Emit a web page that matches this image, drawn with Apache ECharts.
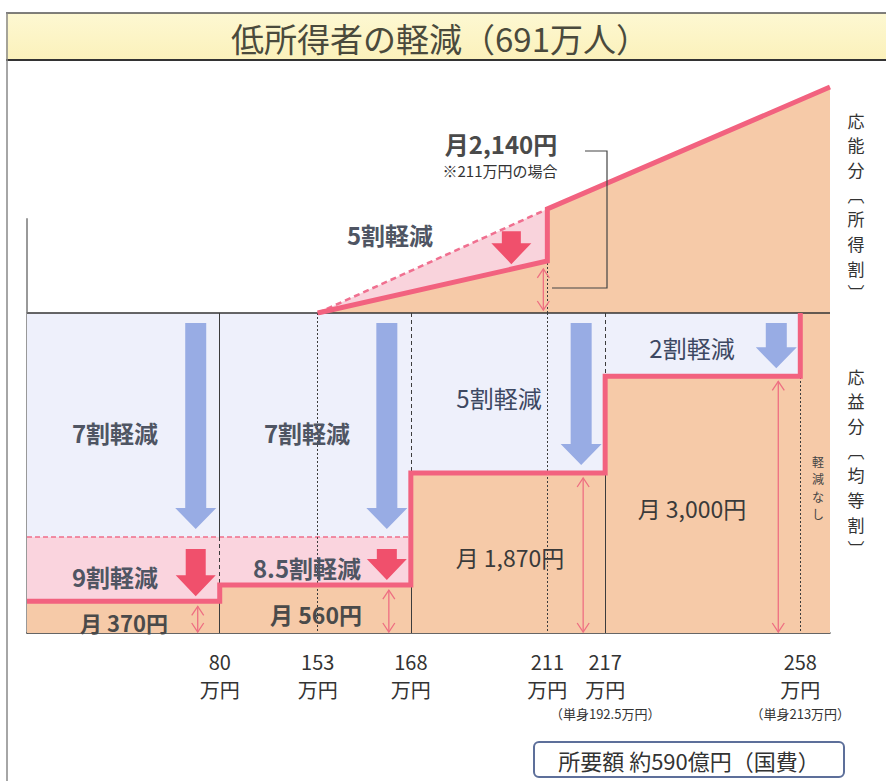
<!DOCTYPE html>
<html>
<head>
<meta charset="utf-8">
<title>低所得者の軽減</title>
<script src="https://cdn.jsdelivr.net/npm/echarts@6/dist/echarts.min.js"></script>
<style>
    html, body { margin: 0; padding: 0; background: #fff; }
    #chart { width: 886px; height: 781px; }
</style>
</head>
<body>
<div id="chart"></div>
<script>
// 所得の区切り（万円）。模式図なので横軸上の位置は等間隔ではない（0〜100）
var incomeLabels = ["80", "153", "168", "211", "217", "258"];
var incomeNotes  = ["", "", "", "", "単身192.5万円", "単身213万円"];
var incomePos    = [24, 36.2, 47.8, 64.8, 72, 96.3];
var axisEnd      = 100;

// 応益分（均等割）の月額：満額、7割軽減後、各区間の軽減後
var flatFull   = 3740;
var flat7      = 1122;
var flatLevels = [370, 560, 1870, 3000];
var flatEnds   = ["80", "168", "217", "258"];
var flatRates  = ["9割軽減", "8.5割軽減", "5割軽減", "2割軽減"];

// 応能分（所得割）の月額：153万円から増える。5割軽減は211万円まで
var shareIncome  = ["153", "211", "end"];
var shareFull    = [0, 2140, 4650];
var shareReduced = [0, 1070];

var FONT = '"Noto Sans CJK JP", "Noto Sans CJK SC", sans-serif';
var gridLeft = 27, gridRight = 56;
var unitPerPx = axisEnd / (886 - gridLeft - gridRight);

function pos(label) {
    if (label === "end") return axisEnd;
    return incomePos[incomeLabels.indexOf(label)];
}
function yen(v) {
    return String(v).replace(/\B(?=(\d{3})+(?!\d))/g, ",");
}
// linear value of a polyline at x
function valueAt(pts, x) {
    for (var i = 0; i < pts.length - 1; i++) {
        if (x >= pts[i][0] && x <= pts[i + 1][0]) {
            var t = (x - pts[i][0]) / (pts[i + 1][0] - pts[i][0]);
            return pts[i][1] + t * (pts[i + 1][1] - pts[i][1]);
        }
    }
    return pts[pts.length - 1][1];
}

// ---- 均等割の階段 ----
var stepPts = [];
var x0 = 0;
for (var i = 0; i < flatLevels.length; i++) {
    var xe = pos(flatEnds[i]);
    stepPts.push([x0, flatLevels[i]], [xe, flatLevels[i]]);
    x0 = xe;
}
stepPts.push([x0, flatFull]);
var stepArea = stepPts.concat([[axisEnd, flatFull]]);

// ---- 所得割の線 ----
var sharePts = [];
for (var i = 0; i < shareIncome.length; i++) {
    sharePts.push([pos(shareIncome[i]), shareFull[i]]);
}
var reducedPts = [[pos("153"), shareReduced[0]], [pos("211"), shareReduced[1]]];
var shareLine = reducedPts.concat(sharePts.slice(1));

// arrows: item = [x, from, to]
function arrowSeries(gridIdx, items, o) {
    return {
        type: "custom", xAxisIndex: gridIdx, yAxisIndex: gridIdx, silent: true, z: 6,
        data: items,
        renderItem: function (params, api) {
            var a = api.coord([api.value(0), api.value(1)]);
            var b = api.coord([api.value(0), api.value(2)]);
            var cx = a[0] - o.off;
            var y1 = a[1] + o.gapTop, y2 = b[1] - o.gapBottom;
            var hs = o.shaft / 2, hh = o.head / 2, hy = y2 - o.headLen;
            return {
                type: "polygon",
                shape: { points: [[cx - hs, y1], [cx + hs, y1], [cx + hs, hy], [cx + hh, hy],
                                  [cx, y2], [cx - hh, hy], [cx - hs, hy]] },
                style: { fill: o.color }
            };
        }
    };
}
function doubleArrowSeries(gridIdx, items, o) {
    return {
        type: "custom", xAxisIndex: gridIdx, yAxisIndex: gridIdx, silent: true, z: 6,
        data: items,
        renderItem: function (params, api) {
            var a = api.coord([api.value(0), api.value(1)]);
            var b = api.coord([api.value(0), api.value(2)]);
            var cx = a[0] - o.off, ya = a[1] + o.gapTop, yb = b[1] - o.gapBottom;
            var st = { stroke: "#ee6f82", lineWidth: 1.3, fill: null };
            return {
                type: "group",
                children: [
                    { type: "line", shape: { x1: cx, y1: ya, x2: cx, y2: yb }, style: st },
                    { type: "polyline", shape: { points: [[cx - 6, ya + 9], [cx, ya], [cx + 6, ya + 9]] }, style: st },
                    { type: "polyline", shape: { points: [[cx - 6, yb - 9], [cx, yb], [cx + 6, yb - 9]] }, style: st }
                ]
            };
        }
    };
}

function vline(x, y1, y2, type) {
    return [{ coord: [x, y1], lineStyle: { type: type, color: "#3c3c3c", width: 1 } }, { coord: [x, y2] }];
}

// vertical (tategaki) text: one element per character
function vtext(x, yTop, chars, size, step, color) {
    var out = [];
    for (var k = 0; k < chars.length; k++) {
        out.push({ type: "text", z: 10, x: x, y: yTop + k * step,
                   style: { text: chars[k], font: size + "px " + FONT, fill: color,
                            align: "center", verticalAlign: "middle" } });
    }
    return out;
}

var upperArrowX = pos("211") - 36 * unitPerPx;
var upperGapX = pos("211") - 4 * unitPerPx;

var chart = echarts.init(document.getElementById("chart"), null, { renderer: "svg" });

var graphics = [
    // title band
    { type: "rect", z: 0, shape: { x: 6, y: 13, width: 880, height: 47 },
      style: { fill: new echarts.graphic.LinearGradient(0, 0, 0, 1, [
          { offset: 0, color: "#fdf8d2" }, { offset: 1, color: "#fbf1bb" }]) } },
    { type: "line", shape: { x1: 6, y1: 13, x2: 886, y2: 13 }, style: { stroke: "#555", lineWidth: 1.5 } },
    { type: "line", shape: { x1: 6, y1: 60, x2: 886, y2: 60 }, style: { stroke: "#333", lineWidth: 2 } },
    { type: "line", shape: { x1: 7, y1: 13, x2: 7, y2: 781 }, style: { stroke: "#888", lineWidth: 1.5 } },
    { type: "text", x: 440, y: 38, style: { text: "低所得者の軽減（691万人）", font: "33px " + FONT,
      fill: "#4a4a3c", align: "center", verticalAlign: "middle" } },

    // bracket for 月2,140円
    { type: "polyline", z: 10, shape: { points: [[585, 151], [607, 151], [607, 288], [552, 288]] },
      style: { stroke: "#444", lineWidth: 1.2, fill: null } },

    // region labels
    { type: "text", z: 10, x: 115, y: 432, style: { text: "7割軽減", font: "bold 24px " + FONT, fill: "#4f5563", align: "center", verticalAlign: "middle" } },
    { type: "text", z: 10, x: 307, y: 432, style: { text: "7割軽減", font: "bold 24px " + FONT, fill: "#4f5563", align: "center", verticalAlign: "middle" } },
    { type: "text", z: 10, x: 115, y: 576, style: { text: flatRates[0], font: "bold 24px " + FONT, fill: "#4f5563", align: "center", verticalAlign: "middle" } },
    { type: "text", z: 10, x: 307, y: 567, style: { text: flatRates[1], font: "bold 24px " + FONT, fill: "#4f5563", align: "center", verticalAlign: "middle" } },
    { type: "text", z: 10, x: 499, y: 397, style: { text: flatRates[2], font: "24px " + FONT, fill: "#3d4862", align: "center", verticalAlign: "middle" } },
    { type: "text", z: 10, x: 692, y: 347, style: { text: flatRates[3], font: "24px " + FONT, fill: "#3d4862", align: "center", verticalAlign: "middle" } },
    { type: "text", z: 10, x: 390, y: 234, style: { text: "5割軽減", font: "bold 24px " + FONT, fill: "#4f5563", align: "center", verticalAlign: "middle" } },

    // amounts
    { type: "text", z: 10, x: 124, y: 622, style: { text: "月 " + yen(flatLevels[0]) + "円", font: "bold 22px " + FONT, fill: "#4a4a4a", align: "center", verticalAlign: "middle" } },
    { type: "text", z: 10, x: 316, y: 614, style: { text: "月 " + yen(flatLevels[1]) + "円", font: "bold 23px " + FONT, fill: "#4a4a4a", align: "center", verticalAlign: "middle" } },
    { type: "text", z: 10, x: 510, y: 557, style: { text: "月 " + yen(flatLevels[2]) + "円", font: "23px " + FONT, fill: "#3a3a3a", align: "center", verticalAlign: "middle" } },
    { type: "text", z: 10, x: 692, y: 508, style: { text: "月 " + yen(flatLevels[3]) + "円", font: "23px " + FONT, fill: "#3a3a3a", align: "center", verticalAlign: "middle" } },
    { type: "text", z: 10, x: 501, y: 143, style: { text: "月" + yen(shareFull[1]) + "円", font: "bold 24px " + FONT, fill: "#4a4a4a", align: "center", verticalAlign: "middle" } },
    { type: "text", z: 10, x: 500, y: 170, style: { text: "※211万円の場合", font: "15px " + FONT, fill: "#333", align: "center", verticalAlign: "middle" } },

    // cost box
    { type: "rect", z: 10, shape: { x: 534, y: 742, width: 310, height: 35, r: 5 },
      style: { fill: "#fff", stroke: "#5d6f9a", lineWidth: 2 } },
    { type: "text", z: 11, x: 689, y: 760, style: { text: "所要額 約590億円（国費）", font: "22px " + FONT, fill: "#333", align: "center", verticalAlign: "middle" } }
];
// side labels and 軽減なし, written vertically
graphics = graphics
    .concat(vtext(856, 120, ["応", "能", "分", "︹", "所", "得", "割", "︺"], 17, 24.7, "#333"))
    .concat(vtext(856, 376, ["応", "益", "分", "︹", "均", "等", "割", "︺"], 17, 24.7, "#333"))
    .concat(vtext(818, 461, ["軽", "減", "な", "し"], 12, 17.6, "#444"));

var option = {
    backgroundColor: "#fff",
    animation: false,
    grid: [
        { left: gridLeft, right: gridRight, top: 313, bottom: 148 },
        { left: gridLeft, right: gridRight, top: 70, bottom: 468 }
    ],
    xAxis: [
        {
            gridIndex: 0, type: "value", min: 0, max: axisEnd,
            axisLine: { show: true, lineStyle: { color: "#333", width: 1.5 } },
            axisTick: { show: false },
            splitLine: { show: false },
            axisLabel: {
                customValues: incomePos,
                margin: 14,
                color: "#333",
                formatter: function (v) {
                    var k = incomePos.indexOf(v);
                    if (k < 0) return "";
                    var s = "{n|" + incomeLabels[k] + "}\n{u|万円}";
                    if (incomeNotes[k]) s += "\n{s|（" + incomeNotes[k] + "）}";
                    return s;
                },
                rich: {
                    n: { fontSize: 20, lineHeight: 28, fontFamily: '"Liberation Sans Narrow", ' + FONT, color: "#333" },
                    u: { fontSize: 20, lineHeight: 28, fontFamily: FONT, color: "#333" },
                    s: { fontSize: 13, lineHeight: 20, fontFamily: FONT, color: "#333" }
                }
            }
        },
        { gridIndex: 1, type: "value", min: 0, max: axisEnd, show: false }
    ],
    yAxis: [
        {
            gridIndex: 0, type: "value", min: 0, max: flatFull,
            axisLine: { show: true, lineStyle: { color: "#777", width: 1.5 } },
            axisTick: { show: false }, axisLabel: { show: false }, splitLine: { show: false }
        },
        { gridIndex: 1, type: "value", min: 0, max: 5000, show: false }
    ],
    series: [
        // 応益分：軽減部分（薄紫）
        {
            type: "line", xAxisIndex: 0, yAxisIndex: 0, symbol: "none", silent: true, z: 1,
            data: [[0, flatFull], [pos("258"), flatFull]],
            lineStyle: { width: 0 }, areaStyle: { color: "#eef0fb", opacity: 1 }
        },
        // 9割・8.5割の追加軽減（ピンク）
        {
            type: "line", xAxisIndex: 0, yAxisIndex: 0, symbol: "none", silent: true, z: 2,
            data: [[0, flat7], [pos("168"), flat7]],
            lineStyle: { width: 1.5, type: [5, 3], color: "#ef6d8a" },
            areaStyle: { color: "#fad4de", opacity: 1 }
        },
        // 軽減後の負担（肌色）
        {
            type: "line", xAxisIndex: 0, yAxisIndex: 0, symbol: "none", silent: true, z: 3,
            data: stepArea, lineStyle: { width: 0 }, areaStyle: { color: "#f6caa8", opacity: 1 }
        },
        // 区切り線
        {
            type: "line", xAxisIndex: 0, yAxisIndex: 0, symbol: "none", silent: true, z: 4,
            data: [[0, flatFull]], lineStyle: { width: 0 },
            markLine: {
                silent: true, symbol: ["none", "none"], label: { show: false },
                data: [
                    [{ coord: [0, flatFull], lineStyle: { type: "solid", color: "#333", width: 1.5 } }, { coord: [axisEnd, flatFull] }],
                    vline(pos("80"), flatFull, flat7, "solid"),
                    vline(pos("80"), flat7, flatLevels[1], [4, 3]),
                    vline(pos("80"), flatLevels[0], 0, "solid"),
                    vline(pos("153"), flatFull, 0, [2, 2]),
                    vline(pos("168"), flatFull, flatLevels[2], [4, 3]),
                    vline(pos("168"), flatLevels[1], 0, "solid"),
                    vline(pos("211"), flatFull, 0, [2, 2]),
                    vline(pos("217"), flatFull, flatLevels[3], [4, 3]),
                    vline(pos("217"), flatLevels[2], 0, "solid"),
                    vline(pos("258"), flatFull, 0, [2, 2])
                ]
            }
        },
        // 軽減後の階段線
        {
            type: "line", xAxisIndex: 0, yAxisIndex: 0, symbol: "none", silent: true, z: 5,
            data: stepPts, lineStyle: { width: 5, color: "#f2627f", join: "miter" }
        },
        // 応能分：5割軽減部分（ピンク）
        {
            type: "line", xAxisIndex: 1, yAxisIndex: 1, symbol: "none", silent: true, z: 2,
            data: sharePts, lineStyle: { width: 0 }, areaStyle: { color: "#f9d3dc", opacity: 1 }
        },
        {
            type: "line", xAxisIndex: 1, yAxisIndex: 1, symbol: "none", silent: true, z: 3,
            data: shareLine, lineStyle: { width: 0 }, areaStyle: { color: "#f6caa8", opacity: 1 },
            markLine: {
                silent: true, symbol: ["none", "none"], label: { show: false },
                data: [
                    [{ coord: [0, 0], lineStyle: { type: "solid", color: "#777", width: 1.5 } }, { coord: [0, 1950] }],
                    vline(pos("211"), 0, shareFull[1], [2, 2])
                ]
            }
        },
        {
            type: "line", xAxisIndex: 1, yAxisIndex: 1, symbol: "none", silent: true, z: 5,
            data: sharePts.slice(0, 2), lineStyle: { width: 2.5, type: [6, 4], color: "#f07090" }
        },
        {
            type: "line", xAxisIndex: 1, yAxisIndex: 1, symbol: "none", silent: true, z: 5,
            data: shareLine, lineStyle: { width: 5, color: "#f2627f", join: "miter" }
        },
        // 青い矢印（均等割の軽減）
        arrowSeries(0, [
            [pos("80"), flatFull, flat7],
            [pos("168"), flatFull, flat7],
            [pos("217"), flatFull, flatLevels[2]],
            [pos("258"), flatFull, flatLevels[3]]
        ], { off: 24, gapTop: 10, gapBottom: 8, shaft: 21, head: 41, headLen: 21, color: "#98ace4" }),
        // 赤い矢印（9割・8.5割、所得割5割）
        arrowSeries(0, [
            [pos("80"), flat7, flatLevels[0]],
            [pos("168"), flat7, flatLevels[1]]
        ], { off: 24, gapTop: 12, gapBottom: 5, shaft: 20, head: 40, headLen: 21, color: "#f0506c" }),
        arrowSeries(1, [
            [upperArrowX, valueAt(sharePts, upperArrowX), valueAt(reducedPts, upperArrowX)]
        ], { off: 0, gapTop: 6, gapBottom: 5, shaft: 19, head: 40, headLen: 21, color: "#f0506c" }),
        // 金額の両矢印
        doubleArrowSeries(0, [
            [pos("80"), flatLevels[0], 0],
            [pos("168"), flatLevels[1], 0],
            [pos("217"), flatLevels[2], 0],
            [pos("258"), flatLevels[3], 0]
        ], { off: 22, gapTop: 5, gapBottom: 1 }),
        doubleArrowSeries(1, [
            [upperGapX, valueAt(reducedPts, upperGapX), 0]
        ], { off: 0, gapTop: 7, gapBottom: 3 })
    ],
    graphic: graphics
};

chart.setOption(option);
</script>
</body>
</html>
